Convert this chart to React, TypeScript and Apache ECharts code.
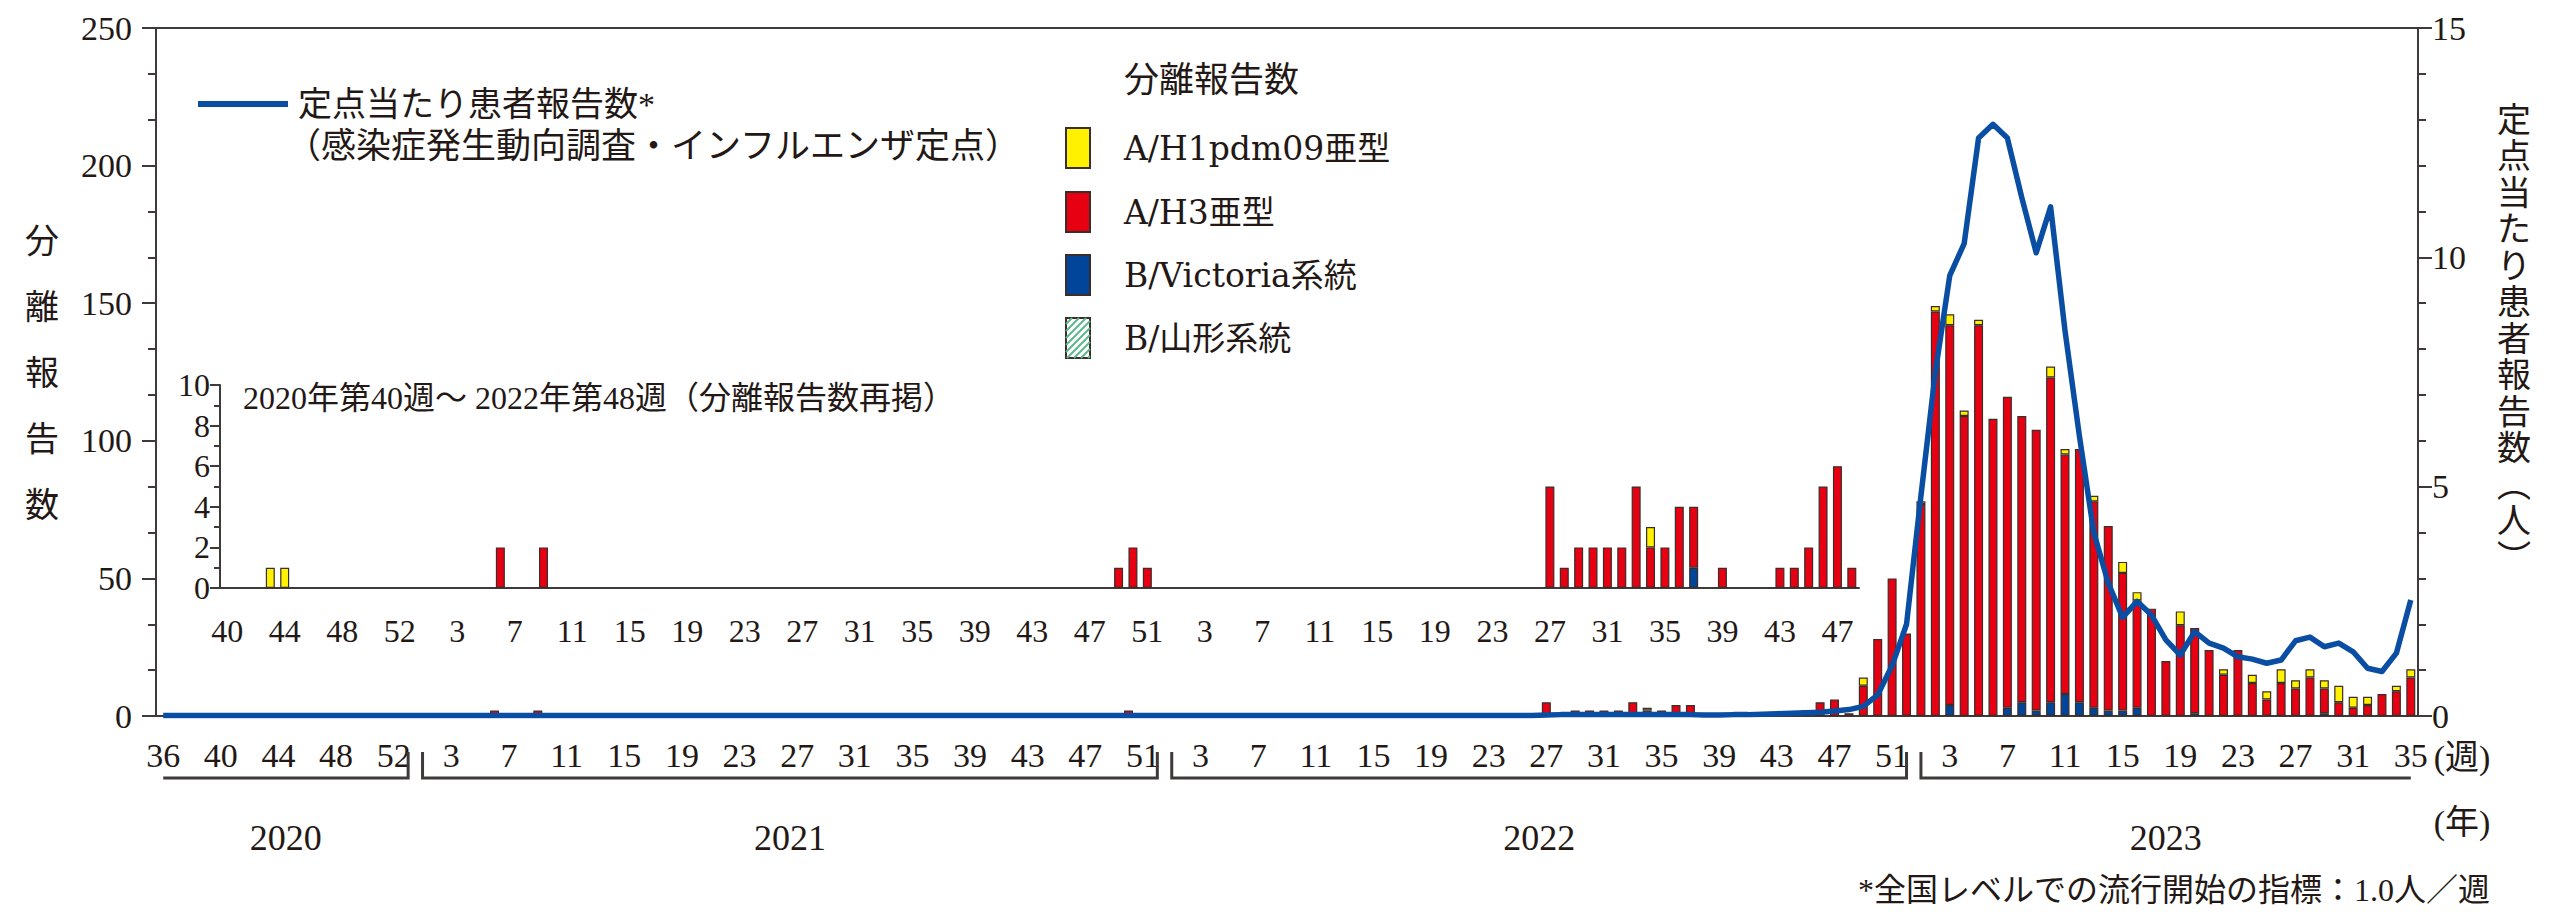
import React, { useEffect, useRef } from "react";
import * as echarts from "echarts";

// ---- categories (ISO weeks) ----
const yearSpans = [
  { year: 2020, first: 36, last: 53 },
  { year: 2021, first: 1, last: 52 },
  { year: 2022, first: 1, last: 52 },
  { year: 2023, first: 1, last: 35 },
];

// ---- isolation reports: A/H1pdm09 ----
const h1_2020 = [0, 0, 0, 0, 0, 0, 0, 1, 1, 0, 0, 0, 0, 0, 0, 0, 0, 0];
const h1_2021 = [
  0, 0, 0, 0, 0, 0, 0, 0, 0, 0, 0, 0, 0, 0, 0, 0, 0, 0, 0, 0, 0, 0, 0, 0, 0, 0,
  0, 0, 0, 0, 0, 0, 0, 0, 0, 0, 0, 0, 0, 0, 0, 0, 0, 0, 0, 0, 0, 0, 0, 0, 0, 0,
];
const h1_2022 = [
  0, 0, 0, 0, 0, 0, 0, 0, 0, 0, 0, 0, 0, 0, 0, 0, 0, 0, 0, 0, 0, 0, 0, 0, 0, 0,
  0, 0, 0, 0, 0, 0, 0, 1, 0, 0, 0, 0, 0, 0, 0, 0, 0, 0, 0, 0, 0, 0, 3, 0, 0, 0,
];
const h1_2023 = [
  1, 2, 4, 2, 2, 0, 0, 0, 0, 4, 2, 0, 2, 0, 4, 3, 0, 0, 5, 0, 0, 2, 0, 3, 3, 5, 3,
  3, 3, 6, 4, 3, 0, 2, 3,
];

// ---- isolation reports: A/H3 ----
const h3_2020 = [0, 0, 0, 0, 0, 0, 0, 0, 0, 0, 0, 0, 0, 0, 0, 0, 0, 0];
const h3_2021 = [
  0, 0, 0, 0, 0, 2, 0, 0, 2, 0, 0, 0, 0, 0, 0, 0, 0, 0, 0, 0, 0, 0, 0, 0, 0, 0,
  0, 0, 0, 0, 0, 0, 0, 0, 0, 0, 0, 0, 0, 0, 0, 0, 0, 0, 0, 0, 0, 0, 1, 2, 1, 0,
];
const h3_2022 = [
  0, 0, 0, 0, 0, 0, 0, 0, 0, 0, 0, 0, 0, 0, 0, 0, 0, 0, 0, 0, 0, 0, 0, 0, 0, 0,
  5, 1, 2, 2, 2, 2, 5, 2, 2, 4, 3, 0, 1, 0, 0, 0, 1, 1, 2, 5, 6, 1, 11, 28, 50, 30,
];
const h3_2023 = [
  77, 147, 138, 109, 142, 108, 113, 104, 102, 118, 87, 92, 75, 67, 50, 39, 39, 20,
  33, 31, 24, 15, 24, 12, 6, 12, 10, 14, 9, 5, 3, 4, 8, 9, 14,
];

// ---- isolation reports: B/Victoria ----
const vic_2020 = [0, 0, 0, 0, 0, 0, 0, 0, 0, 0, 0, 0, 0, 0, 0, 0, 0, 0];
const vic_2021 = [
  0, 0, 0, 0, 0, 0, 0, 0, 0, 0, 0, 0, 0, 0, 0, 0, 0, 0, 0, 0, 0, 0, 0, 0, 0, 0,
  0, 0, 0, 0, 0, 0, 0, 0, 0, 0, 0, 0, 0, 0, 0, 0, 0, 0, 0, 0, 0, 0, 0, 0, 0, 0,
];
const vic_2022 = [
  0, 0, 0, 0, 0, 0, 0, 0, 0, 0, 0, 0, 0, 0, 0, 0, 0, 0, 0, 0, 0, 0, 0, 0, 0, 0,
  0, 0, 0, 0, 0, 0, 0, 0, 0, 0, 1, 0, 0, 0, 0, 0, 0, 0, 0, 0, 0, 0, 0, 0, 0, 0,
];
const vic_2023 = [
  0, 0, 4, 0, 0, 0, 3, 5, 2, 5, 8, 5, 3, 2, 2, 3, 0, 0, 0, 1, 0, 0, 0, 0, 0, 0, 0,
  0, 1, 0, 0, 0, 0, 0, 0,
];

// ---- B/Yamagata: none reported ----
const yam_all_weeks = 0;

// ---- patients per sentinel site ----
const line2020 = [
  0.01, 0.01, 0.01, 0.01, 0.01, 0.01, 0.01, 0.01, 0.01, 0.01, 0.01, 0.01, 0.01,
  0.01, 0.01, 0.01, 0.01, 0.01,
];
const line2021 = [
  0.01, 0.01, 0.01, 0.01, 0.01, 0.01, 0.01, 0.01, 0.01, 0.01, 0.01, 0.01, 0.01,
  0.01, 0.01, 0.01, 0.01, 0.01, 0.01, 0.01, 0.01, 0.01, 0.01, 0.01, 0.01, 0.01,
  0.01, 0.01, 0.01, 0.01, 0.01, 0.01, 0.01, 0.01, 0.01, 0.01, 0.01, 0.01, 0.01,
  0.01, 0.01, 0.01, 0.01, 0.01, 0.01, 0.01, 0.01, 0.01, 0.01, 0.01, 0.01, 0.01,
];
const line2022 = [
  0.01, 0.01, 0.01, 0.01, 0.01, 0.01, 0.01, 0.01, 0.01, 0.01, 0.01, 0.01, 0.01,
  0.01, 0.01, 0.01, 0.01, 0.01, 0.01, 0.01, 0.01, 0.01, 0.01, 0.01, 0.01, 0.01,
  0.02, 0.03, 0.03, 0.03, 0.03, 0.03, 0.03, 0.03, 0.03, 0.03, 0.03, 0.02, 0.02,
  0.03, 0.03, 0.04, 0.05, 0.06, 0.07, 0.08, 0.11, 0.14, 0.21, 0.46, 1.1, 2.0,
];
const line2023 = [
  4.8, 7.5, 9.6, 10.3, 12.6, 12.9, 12.6, 11.3, 10.1, 11.1, 8.4, 6.1, 4.0, 2.9,
  2.15, 2.5, 2.2, 1.66, 1.33, 1.84, 1.59, 1.48, 1.29, 1.24, 1.15, 1.22, 1.64,
  1.72, 1.51, 1.59, 1.4, 1.04, 0.97, 1.37, 2.53,
];

// ---- inset range: 2020 week 40 to 2022 week 48 ----
const insetFrom = "2020-40";
const insetTo = "2022-48";

const categories: string[] = [];
yearSpans.forEach((s) => {
  for (let w = s.first; w <= s.last; w++) categories.push(`${s.year}-${w}`);
});
const h1 = [...h1_2020, ...h1_2021, ...h1_2022, ...h1_2023];
const h3 = [...h3_2020, ...h3_2021, ...h3_2022, ...h3_2023];
const vic = [...vic_2020, ...vic_2021, ...vic_2022, ...vic_2023];
const yam = categories.map(() => yam_all_weeks);
const perSite = [...line2020, ...line2021, ...line2022, ...line2023];

const i0 = categories.indexOf(insetFrom);
const i1 = categories.indexOf(insetTo);
const insetCats = categories.slice(i0, i1 + 1);

const nz = (a: number[]) => a.map((v) => (v > 0 ? v : null));

const spanIdx = yearSpans.map((s) => [
  categories.indexOf(`${s.year}-${s.first}`),
  0,
  categories.indexOf(`${s.year}-${s.last}`),
]);

const INK = "#231815";
const AXIS = "#3e3a39";
const SERIF = '"Liberation Serif", "Noto Sans CJK JP", serif';
const WIDE = '"DejaVu Serif", "Noto Sans CJK JP", serif';
const CJK = '"Liberation Serif", "Noto Sans CJK JP", sans-serif';
const YELLOW = "#fff100";
const RED = "#e60012";
const BLUE = "#00459a";
const LINE = "#0a4ea3";
const GREEN = "#5cb88a";
const BORDER = "#3a2e2a";

const weekLabel = (v: string) => v.split("-")[1];

export default function App() {
  const ref = useRef<HTMLDivElement>(null);
  useEffect(() => {
    if (!ref.current) return;
    const chart = echarts.init(ref.current, undefined, { renderer: "svg" });

    const barStyle = (c: string) => ({
      color: c,
      borderColor: BORDER,
      borderWidth: 1.2,
    });
    const mkBars = (xi: number, yi: number, stack: string, sl: (a: any[]) => any[], bw: number) => [
      { name: "B/Victoria系統", data: sl(nz(vic)), c: BLUE },
      { name: "A/H3亜型", data: sl(nz(h3)), c: RED },
      { name: "A/H1pdm09亜型", data: sl(nz(h1)), c: YELLOW },
      { name: "B/山形系統", data: sl(nz(yam)), c: GREEN },
    ].map((s) => ({
      type: "bar",
      name: s.name,
      xAxisIndex: xi,
      yAxisIndex: yi,
      stack,
      barWidth: bw,
      data: s.data,
      itemStyle: barStyle(s.c),
      emphasis: { disabled: true },
    }));

    const labelFont = { fontFamily: SERIF, fontSize: 34, color: INK };
    const insetFont = { fontFamily: SERIF, fontSize: 32, color: INK };

    // legend graphics
    const legendX = 1066;
    const legendItems = [
      { t: "A/H1pdm09亜型", c: YELLOW, y: 148 },
      { t: "A/H3亜型", c: RED, y: 212 },
      { t: "B/Victoria系統", c: BLUE, y: 275 },
      { t: "B/山形系統", c: "#fff", y: 338 },
    ];
    const graphics: any[] = [];
    graphics.push({
      type: "line",
      shape: { x1: 198, y1: 104, x2: 288, y2: 104 },
      style: { stroke: LINE, lineWidth: 6 },
    });
    graphics.push({
      type: "text",
      style: { text: "定点当たり患者報告数*", x: 298, y: 104, verticalAlign: "middle", font: `34px ${CJK}`, fill: INK },
    });
    graphics.push({
      type: "text",
      style: { text: "（感染症発生動向調査・インフルエンザ定点）", x: 286, y: 146, verticalAlign: "middle", font: `35px ${CJK}`, fill: INK },
    });
    graphics.push({
      type: "text",
      style: { text: "分離報告数", x: 1124, y: 80, verticalAlign: "middle", font: `35px ${CJK}`, fill: INK },
    });
    legendItems.forEach((it, k) => {
      graphics.push({
        type: "rect",
        shape: { x: legendX, y: it.y - 20, width: 24, height: 40 },
        style: { fill: it.c, stroke: BORDER, lineWidth: 2 },
      });
      if (k === 3) {
        const x0 = legendX, y0 = it.y - 20, w = 24, h = 40;
        for (let d = 6; d < w + h; d += 7) {
          const ax = x0 + Math.max(0, d - h), ay = y0 + Math.min(h, d);
          const bx = x0 + Math.min(w, d), by = y0 + Math.max(0, d - w);
          graphics.push({
            type: "line",
            shape: { x1: ax, y1: ay, x2: bx, y2: by },
            style: { stroke: GREEN, lineWidth: 2 },
          });
        }
      }
      graphics.push({
        type: "text",
        style: { text: it.t, x: 1124, y: it.y, verticalAlign: "middle", font: `33px ${WIDE}`, fill: INK },
      });
    });
    // inset title
    graphics.push({
      type: "text",
      style: { text: "2020年第40週～ 2022年第48週（分離報告数再掲）", x: 243, y: 398, verticalAlign: "middle", font: `32px ${CJK}`, fill: INK },
    });
    // axis names (vertical)
    graphics.push({
      type: "text",
      style: { text: "分離報告数".split("").join("\n"), x: 42, y: 208, align: "center", verticalAlign: "top", lineHeight: 66, font: `34px ${CJK}`, fill: INK },
    });
    graphics.push({
      type: "text",
      style: { text: ["定", "点", "当", "た", "り", "患", "者", "報", "告", "数", "︵", "人", "︶"].join("\n"), x: 2514, y: 102, align: "center", verticalAlign: "top", lineHeight: 36.5, font: `34px ${CJK}`, fill: INK },
    });
    graphics.push({
      type: "text",
      style: { text: "(週)", x: 2462, y: 757, align: "center", verticalAlign: "middle", font: `34px ${CJK}`, fill: INK },
    });
    graphics.push({
      type: "text",
      style: { text: "(年)", x: 2462, y: 822, align: "center", verticalAlign: "middle", font: `34px ${CJK}`, fill: INK },
    });
    graphics.push({
      type: "text",
      style: { text: "*全国レベルでの流行開始の指標：1.0人／週", x: 2490, y: 890, align: "right", verticalAlign: "middle", font: `32px ${CJK}`, fill: INK },
    });

    const option: any = {
      animation: false,
      backgroundColor: "#fff",
      grid: [
        { left: 156, top: 28, width: 2262, height: 688, show: true, borderColor: AXIS, borderWidth: 2, backgroundColor: "transparent" },
        { left: 220, top: 385, width: 1639, height: 203 },
      ],
      xAxis: [
        {
          type: "category",
          gridIndex: 0,
          data: categories,
          boundaryGap: true,
          axisLine: { lineStyle: { color: AXIS, width: 2 } },
          axisTick: { alignWithLabel: true, interval: 0, length: 16, lineStyle: { color: "#555", width: 1.5 } },
          axisLabel: { interval: 3, margin: 22, formatter: weekLabel, ...labelFont },
        },
        {
          type: "category",
          gridIndex: 1,
          data: insetCats,
          boundaryGap: true,
          axisLine: { lineStyle: { color: AXIS, width: 2 } },
          axisTick: { alignWithLabel: true, interval: 0, length: 18, lineStyle: { color: "#555", width: 1.5 } },
          axisLabel: { interval: 3, margin: 27, formatter: weekLabel, ...insetFont },
        },
      ],
      yAxis: [
        {
          type: "value",
          gridIndex: 0,
          min: 0,
          max: 250,
          interval: 50,
          axisLine: { show: true, lineStyle: { color: AXIS, width: 2 } },
          axisTick: { show: true, length: 14, lineStyle: { color: AXIS, width: 2 } },
          minorTick: { show: true, splitNumber: 3, length: 8, lineStyle: { color: AXIS, width: 2 } },
          splitLine: { show: false },
          axisLabel: { margin: 24, ...labelFont },
        },
        {
          type: "value",
          gridIndex: 0,
          position: "right",
          min: 0,
          max: 15,
          interval: 5,
          axisLine: { show: true, lineStyle: { color: AXIS, width: 2 } },
          axisTick: { show: true, length: 14, lineStyle: { color: AXIS, width: 2 } },
          minorTick: { show: true, splitNumber: 5, length: 8, lineStyle: { color: AXIS, width: 2 } },
          splitLine: { show: false },
          axisLabel: { margin: 14, ...labelFont },
        },
        {
          type: "value",
          gridIndex: 1,
          min: 0,
          max: 10,
          interval: 2,
          axisLine: { show: true, lineStyle: { color: AXIS, width: 2 } },
          axisTick: { show: true, length: 10, lineStyle: { color: AXIS, width: 2 } },
          minorTick: { show: true, splitNumber: 2, length: 6, lineStyle: { color: AXIS, width: 2 } },
          splitLine: { show: false },
          axisLabel: { margin: 10, ...insetFont },
        },
      ],
      series: [
        ...mkBars(0, 0, "main", (a) => a, 9),
        ...mkBars(1, 2, "inset", (a) => a.slice(i0, i1 + 1), 9),
        {
          type: "line",
          name: "定点当たり患者報告数",
          xAxisIndex: 0,
          yAxisIndex: 1,
          data: perSite,
          symbol: "none",
          lineStyle: { color: LINE, width: 5.5, join: "round" },
          z: 5,
        },
        {
          type: "custom",
          xAxisIndex: 0,
          yAxisIndex: 0,
          clip: false,
          silent: true,
          data: spanIdx,
          encode: { x: 0, y: 1 },
          renderItem: (params: any, api: any) => {
            const k = params.dataIndex;
            const s = api.coord([api.value(0), 0]);
            const e = api.coord([api.value(2), 0]);
            const base = s[1];
            const yLine = base + 62;
            const yTop = base + 36;
            const pts: number[][] = [];
            if (k > 0) pts.push([s[0], yTop]);
            pts.push([s[0], yLine]);
            pts.push([e[0], yLine]);
            if (k < yearSpans.length - 1) pts.push([e[0], yTop]);
            return {
              type: "group",
              children: [
                { type: "polyline", shape: { points: pts }, style: { stroke: AXIS, lineWidth: 3, fill: null } },
                {
                  type: "text",
                  style: {
                    text: String(yearSpans[k].year),
                    x: (s[0] + e[0]) / 2,
                    y: base + 122,
                    align: "center",
                    verticalAlign: "middle",
                    font: `36px ${SERIF}`,
                    fill: INK,
                  },
                },
              ],
            };
          },
        },
      ],
      graphic: graphics,
    };
    chart.setOption(option);
    return () => chart.dispose();
  }, []);
  return (
    <div
      ref={ref}
      style={{ position: "absolute", left: 0, top: 0, width: 2552, height: 912 }}
    />
  );
}
